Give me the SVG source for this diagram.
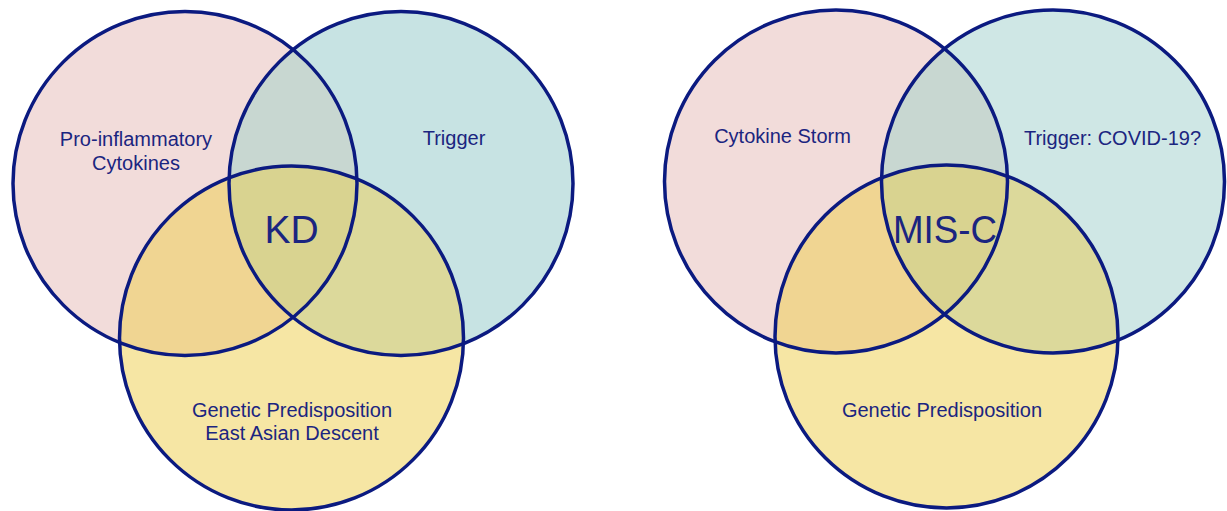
<svg xmlns="http://www.w3.org/2000/svg" width="1227" height="511" viewBox="0 0 1227 511">
<style>
.pk{fill:#f2dcda}.bl{fill:#c7e3e3}.bl2{fill:#cfe7e5}.ye{fill:#f6e6a4}
.pb{fill:#c8d7d1}.py{fill:#f0d592}.by{fill:#dcd99b}.pby{fill:#d9d390}
.ol{fill:none;stroke:#0b1a80;stroke-width:3.5}
text{font-family:"Liberation Sans",Arial,sans-serif;fill:#1b2580;text-anchor:middle}
.s{font-size:20px}.b{font-size:39px}
</style>
<defs>
<clipPath id="cLP"><circle cx="185" cy="183.5" r="172"/></clipPath>
<clipPath id="cLB"><circle cx="401" cy="183.5" r="172"/></clipPath>
<clipPath id="cLPB" clip-path="url(#cLP)"><circle cx="401" cy="183.5" r="172"/></clipPath>
<clipPath id="cRP"><circle cx="836" cy="181.5" r="171.5"/></clipPath>
<clipPath id="cRB"><circle cx="1053" cy="181.5" r="171.5"/></clipPath>
<clipPath id="cRPB" clip-path="url(#cRP)"><circle cx="1053" cy="181.5" r="171.5"/></clipPath>
</defs>
<g id="left-venn">
<g id="kd-cytokines">
<circle class="pk" cx="185" cy="183.5" r="172"/>
</g>
<g id="kd-trigger">
<circle class="bl" cx="401" cy="183.5" r="172"/>
<circle class="pb" cx="401" cy="183.5" r="172" clip-path="url(#cLP)"/>
</g>
<g id="kd-genetic">
<circle class="ye" cx="291.5" cy="338" r="172"/>
<circle class="py" cx="291.5" cy="338" r="172" clip-path="url(#cLP)"/>
<circle class="by" cx="291.5" cy="338" r="172" clip-path="url(#cLB)"/>
<circle class="pby" cx="291.5" cy="338" r="172" clip-path="url(#cLPB)"/>
</g>
<g id="left-outlines">
<circle class="ol" cx="185" cy="183.5" r="172"/>
<circle class="ol" cx="401" cy="183.5" r="172"/>
<circle class="ol" cx="291.5" cy="338" r="172"/>
</g>
<text class="s" x="136" y="146">Pro-inflammatory</text>
<text class="s" x="136" y="170">Cytokines</text>
<text class="s" x="454" y="145">Trigger</text>
<text class="b" x="291.5" y="243">KD</text>
<text class="s" x="292" y="417">Genetic Predisposition</text>
<text class="s" x="292" y="440">East Asian Descent</text>
</g>
<g id="right-venn">
<g id="misc-cytokine">
<circle class="pk" cx="836" cy="181.5" r="171.5"/>
</g>
<g id="misc-trigger">
<circle class="bl2" cx="1053" cy="181.5" r="171.5"/>
<circle class="pb" cx="1053" cy="181.5" r="171.5" clip-path="url(#cRP)"/>
</g>
<g id="misc-genetic">
<circle class="ye" cx="946.5" cy="336.5" r="171.5"/>
<circle class="py" cx="946.5" cy="336.5" r="171.5" clip-path="url(#cRP)"/>
<circle class="by" cx="946.5" cy="336.5" r="171.5" clip-path="url(#cRB)"/>
<circle class="pby" cx="946.5" cy="336.5" r="171.5" clip-path="url(#cRPB)"/>
</g>
<g id="right-outlines">
<circle class="ol" cx="836" cy="181.5" r="171.5"/>
<circle class="ol" cx="1053" cy="181.5" r="171.5"/>
<circle class="ol" cx="946.5" cy="336.5" r="171.5"/>
</g>
<text class="s" x="782.5" y="143">Cytokine Storm</text>
<text class="s" x="1112.5" y="145">Trigger: COVID-19?</text>
<text class="b" x="945" y="243" textLength="104" lengthAdjust="spacingAndGlyphs">MIS-C</text>
<text class="s" x="942" y="417">Genetic Predisposition</text>
</g>
</svg>
